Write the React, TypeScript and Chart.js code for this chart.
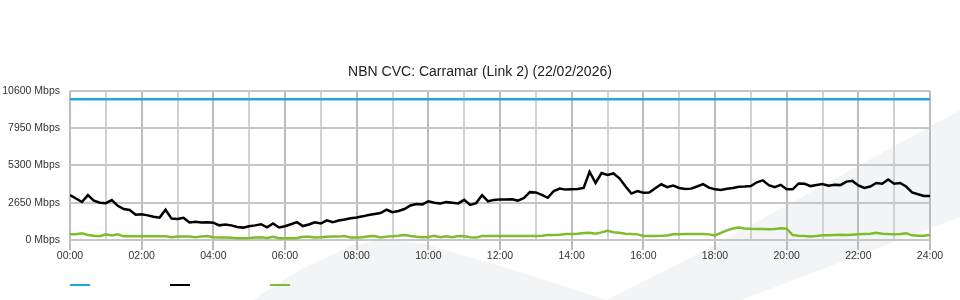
import React, { useEffect, useRef } from "react";
import { Chart, registerables } from "chart.js";

Chart.register(...registerables);

const TITLE = "NBN CVC: Carramar (Link 2) (22/02/2026)";
const SAMPLE_MINUTES = 10;
const CAPACITY_MBPS = 10000;
const Y_TICKS = [0, 2650, 5300, 7950, 10600];
const X_TICK_LABELS = [
  "00:00", "02:00", "04:00", "06:00", "08:00", "10:00", "12:00",
  "14:00", "16:00", "18:00", "20:00", "22:00", "24:00",
];

// 10-minute samples, 00:00 .. 24:00 (Mbps)
const TRAFFIC_IN = [
  3190, 2950, 2700, 3190, 2800, 2650, 2620, 2840, 2430, 2200, 2130, 1800,
  1830, 1750, 1650, 1590, 2150, 1520, 1500, 1580, 1240, 1290, 1250, 1260,
  1230, 1040, 1100, 1040, 920, 880, 970, 1040, 1120, 900, 1170, 890,
  980, 1120, 1270, 990, 1100, 1260, 1170, 1400, 1260, 1380, 1450, 1550,
  1600, 1680, 1775, 1850, 1920, 2150, 1970, 2060, 2200, 2450, 2560, 2530,
  2750, 2650, 2600, 2690, 2650, 2600, 2850, 2490, 2620, 3180, 2750, 2850,
  2886, 2880, 2890, 2800, 2980, 3400, 3380, 3200, 3000, 3480, 3650, 3580,
  3600, 3620, 3700, 4850, 4050, 4760, 4620, 4730, 4380, 3820, 3300, 3470,
  3360, 3370, 3680, 3960, 3750, 3870, 3700, 3620, 3650, 3800, 3970, 3720,
  3600, 3560, 3640, 3700, 3780, 3800, 3830, 4100, 4240, 3900, 3750, 3920,
  3600, 3600, 4020, 3990, 3830, 3900, 3970, 3860, 3930, 3900, 4150, 4200,
  3880, 3700, 3800, 4050, 4000, 4300, 4000, 4050, 3800, 3380, 3250, 3130,
  3120,
];

const TRAFFIC_OUT = [
  400, 410, 470, 360, 300, 270, 400, 320, 400, 260, 260, 260,
  260, 260, 260, 260, 260, 190, 250, 250, 240, 200, 250, 280,
  190, 170, 170, 160, 120, 130, 140, 170, 190, 140, 230, 120,
  120, 120, 140, 230, 230, 180, 200, 230, 240, 240, 280, 170,
  170, 200, 260, 280, 180, 240, 260, 300, 360, 280, 230, 190,
  220, 300, 190, 260, 200, 280, 260, 190, 170, 280, 290, 290,
  290, 290, 290, 290, 290, 290, 290, 300, 350, 360, 380, 420,
  430, 440, 500, 510, 450, 540, 650, 550, 520, 440, 430, 400,
  290, 290, 290, 300, 320, 400, 410, 420, 420, 420, 420, 400,
  320, 500, 680, 820, 880, 820, 800, 790, 780, 770, 780, 840,
  800, 350, 300, 280, 250, 280, 330, 340, 360, 380, 360, 380,
  400, 420, 440, 520, 450, 420, 400, 430, 470, 330, 300, 300,
  350,
];

const SERIES_NAMES = ["Capacity", "Download", "Upload"];
const SERIES_COLORS = ["#1ea7e1", "#000000", "#7dbd2c"];
const LEGEND_GAP = " ".repeat(27);

const FONT = "'Liberation Sans', Arial, Helvetica, sans-serif";

export default function App() {
  const canvasRef = useRef<HTMLCanvasElement | null>(null);

  useEffect(() => {
    if (!canvasRef.current) return;
    const toPoints = (arr: number[]) =>
      arr.map((v, i) => ({ x: i * SAMPLE_MINUTES, y: v }));
    const lastMinute = (TRAFFIC_IN.length - 1) * SAMPLE_MINUTES;

    const chart = new Chart(canvasRef.current, {
      type: "line",
      data: {
        datasets: [
          {
            label: SERIES_NAMES[0],
            data: [
              { x: 0, y: CAPACITY_MBPS },
              { x: lastMinute, y: CAPACITY_MBPS },
            ],
            borderColor: SERIES_COLORS[0],
            backgroundColor: SERIES_COLORS[0],
            borderWidth: 2.5,
            pointRadius: 0,
            tension: 0,
          },
          {
            label: SERIES_NAMES[1],
            data: toPoints(TRAFFIC_IN),
            borderColor: SERIES_COLORS[1],
            backgroundColor: SERIES_COLORS[1],
            borderWidth: 2.5,
            pointRadius: 0,
            tension: 0,
          },
          {
            label: SERIES_NAMES[2],
            data: toPoints(TRAFFIC_OUT),
            borderColor: SERIES_COLORS[2],
            backgroundColor: SERIES_COLORS[2],
            borderWidth: 2.5,
            pointRadius: 0,
            tension: 0,
          },
        ],
      },
      options: {
        responsive: false,
        animation: false,
        layout: { padding: { left: 0, right: 0, top: 0, bottom: 0 } },
        font: { family: FONT },
        plugins: {
          tooltip: { enabled: false },
          title: {
            display: true,
            text: TITLE,
            color: "#222",
            font: { family: FONT, size: 14, weight: "normal" },
            padding: { top: 63.5, bottom: 10.5 },
          },
          legend: {
            display: true,
            position: "bottom",
            align: "start",
            fullSize: false,
            labels: {
              boxWidth: 20,
              boxHeight: 0,
              padding: 0,
              font: { family: FONT, size: 10 },
              generateLabels: (c: any) =>
                c.data.datasets.map((ds: any, i: number) => ({
                  text: LEGEND_GAP,
                  fillStyle: ds.borderColor,
                  strokeStyle: ds.borderColor,
                  lineWidth: 2,
                  hidden: !c.isDatasetVisible(i),
                  datasetIndex: i,
                })),
            },
          },
        },
        scales: {
          x: {
            type: "linear",
            min: 0,
            max: lastMinute,
            afterFit: (s: any) => {
              s.height = 40;
            },
            ticks: {
              stepSize: 60,
              autoSkip: false,
              maxRotation: 0,
              padding: 0,
              color: "#333",
              font: { family: FONT, size: 10.5 },
              callback: (v: any) => {
                const n = Number(v);
                return n % 120 === 0 ? X_TICK_LABELS[n / 120] : "";
              },
            },
            grid: {
              color: (ctx: any) =>
                ctx.tick && ctx.tick.value % 120 === 0 ? "#bcbcbc" : "#d2d2d2",
              lineWidth: 2,
              tickLength: 10,
              tickColor: (ctx: any) =>
                ctx.tick && ctx.tick.value % 120 === 0 ? "#bcbcbc" : "rgba(0,0,0,0)",
              tickWidth: 2,
            },
            border: { display: false },
          },
          y: {
            min: 0,
            max: Y_TICKS[Y_TICKS.length - 1],
            afterBuildTicks: (s: any) => {
              s.ticks = Y_TICKS.map((v) => ({ value: v }));
            },
            afterFit: (s: any) => {
              s.width = 70;
            },
            ticks: {
              padding: 10,
              color: "#333",
              font: { family: FONT, size: 10.5 },
              callback: (v: any) => `${v} Mbps`,
            },
            grid: {
              color: "#c6c6c6",
              lineWidth: 2,
              drawTicks: false,
            },
            border: { display: false },
          },
          yRight: {
            position: "right",
            display: true,
            min: 0,
            max: Y_TICKS[Y_TICKS.length - 1],
            afterFit: (s: any) => {
              s.width = 30;
            },
            ticks: { display: false },
            grid: { display: false, drawTicks: false },
            border: { display: false },
          },
        },
      },
    });
    return () => chart.destroy();
  }, []);

  return (
    <div
      style={{
        position: "absolute",
        left: 0,
        top: 0,
        width: 960,
        height: 300,
        background: "#ffffff",
        overflow: "hidden",
      }}
    >
      <div
        style={{
          position: "absolute",
          left: 0,
          top: 0,
          width: 960,
          height: 300,
          background: "#f3f4f6",
          clipPath:
            "polygon(253px 300px, 300px 270px, 350px 246px, 385px 239px, 425px 244px, 520px 272px, 607px 300px, 715px 245px, 960px 110px, 960px 217px, 741px 300px)",
        }}
      />
      <canvas
        ref={canvasRef}
        width={960}
        height={300}
        style={{ position: "absolute", left: 0, top: 0, width: 960, height: 300 }}
      />
    </div>
  );
}
